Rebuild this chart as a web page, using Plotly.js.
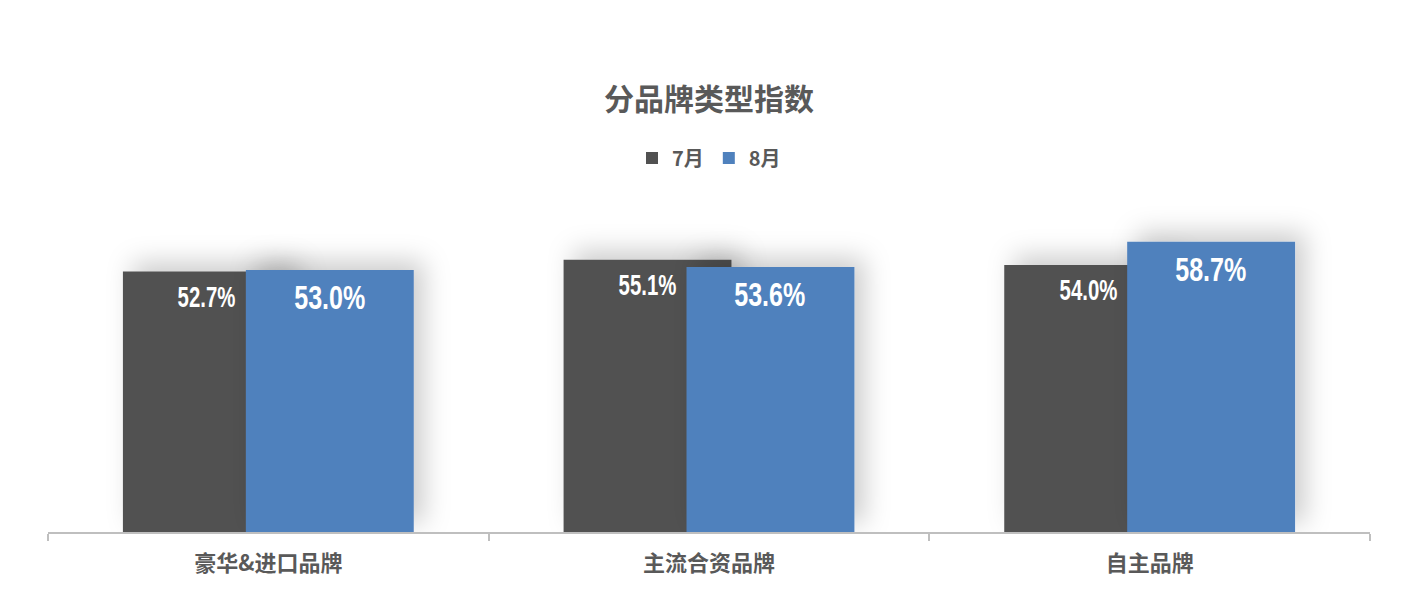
<!DOCTYPE html>
<html>
<head>
<meta charset="utf-8">
<script src="https://cdn.plot.ly/plotly-3.0.1.min.js"></script>
<style>
html,body{margin:0;padding:0;background:#fff;}
#chart{width:1418px;height:590px;}
</style>
</head>
<body>
<div id="chart"></div>
<script>
var categories = ['豪华&进口品牌', '主流合资品牌', '自主品牌'];
var seriesNames = ['7月', '8月'];
var julyValues = [52.7, 55.1, 54.0];
var augustValues = [53.0, 53.6, 58.7];
var chartTitle = '分品牌类型指数';

var cjk = '"Noto Sans CJK SC", "Noto Sans", sans-serif';
var labelFont = '"Liberation Sans", Arial, sans-serif';
var grey = '#595959';
var darkColor = '#515151';
var blueColor = '#4f81bd';

var barWidth = 0.381;
var darkOffset = -0.330;
var blueOffset = -0.051;

var traces = [
  {
    type: 'bar', name: seriesNames[0], x: categories, y: julyValues,
    marker: {color: darkColor, line: {width: 0}},
    width: barWidth, offset: darkOffset, hoverinfo: 'none'
  },
  {
    type: 'bar', name: seriesNames[1], x: categories, y: augustValues,
    marker: {color: blueColor, line: {width: 0}},
    width: barWidth, offset: blueOffset, hoverinfo: 'none'
  }
];

var annotations = [];
categories.forEach(function (c, i) {
  annotations.push({
    x: i + darkOffset + barWidth / 2, y: julyValues[i], xref: 'x', yref: 'y',
    text: julyValues[i].toFixed(1) + '%', showarrow: false,
    yanchor: 'top', xanchor: 'center', yshift: -6, name: 'dark',
    font: {family: labelFont, size: 30, color: '#ffffff', weight: 'bold'}
  });
  annotations.push({
    x: i + blueOffset + barWidth / 2, y: augustValues[i], xref: 'x', yref: 'y',
    text: augustValues[i].toFixed(1) + '%', showarrow: false,
    yanchor: 'top', xanchor: 'center', yshift: -7, name: 'blue',
    font: {family: labelFont, size: 33, color: '#ffffff', weight: 'bold'}
  });
});

var layout = {
  width: 1418, height: 590,
  margin: {l: 48, r: 48, t: 186, b: 58, pad: 0},
  paper_bgcolor: '#ffffff', plot_bgcolor: '#ffffff',
  barmode: 'overlay',
  title: {
    text: chartTitle, x: 0.5, xanchor: 'center', xref: 'paper',
    y: 1 - 99 / 590, yref: 'container', yanchor: 'middle',
    font: {family: cjk, size: 30, color: grey, weight: 'bold'}
  },
  showlegend: true,
  legend: {
    orientation: 'h', x: 0.5, xanchor: 'center', y: 1.0 + (186 - 158) / 346, yanchor: 'middle',
    font: {family: cjk, size: 20, color: grey, weight: 'bold'},
    itemwidth: 30, traceorder: 'normal', bgcolor: 'rgba(0,0,0,0)'
  },
  xaxis: {
    type: 'category', showgrid: false, zeroline: false,
    showline: true, linecolor: '#bfbfbf', linewidth: 2,
    ticks: 'outside', tickson: 'boundaries', ticklen: 7, tickwidth: 2, tickcolor: '#bfbfbf',
    ticklabelstandoff: 11,
    tickfont: {family: cjk, size: 22, color: grey, weight: 'bold'},
    range: [-0.5, 2.5], fixedrange: true
  },
  yaxis: {
    range: [0, 70], visible: false, showgrid: false, zeroline: false, fixedrange: true
  },
  annotations: annotations
};

Plotly.newPlot('chart', traces, layout, {displayModeBar: false, staticPlot: true}).then(function (gd) {
  var svgNS = 'http://www.w3.org/2000/svg';
  var defs = gd.querySelector('.main-svg defs');
  if (defs) {
    var filter = document.createElementNS(svgNS, 'filter');
    filter.setAttribute('id', 'barShadow');
    filter.setAttribute('x', '-50%'); filter.setAttribute('y', '-50%');
    filter.setAttribute('width', '200%'); filter.setAttribute('height', '200%');
    var ds = document.createElementNS(svgNS, 'feDropShadow');
    ds.setAttribute('dx', '10'); ds.setAttribute('dy', '-9');
    ds.setAttribute('stdDeviation', '13');
    ds.setAttribute('flood-color', '#000000');
    ds.setAttribute('flood-opacity', '0.2');
    filter.appendChild(ds);
    defs.appendChild(filter);
    gd.querySelectorAll('.barlayer .trace .point path').forEach(function (p) {
      p.setAttribute('filter', 'url(#barShadow)');
    });
  }
  // condense the value labels horizontally (narrow bold look)
  gd.querySelectorAll('.annotation').forEach(function (a, k) {
    var t = a.querySelector('.annotation-text');
    if (!t) return;
    var s = (k % 2 === 0) ? 0.68 : 0.76;
    var b = t.getBBox();
    var cx = b.x + b.width / 2;
    t.setAttribute('transform', 'translate(' + cx + ',0) scale(' + s + ',1) translate(' + (-cx) + ',0)');
  });
});
</script>
</body>
</html>
